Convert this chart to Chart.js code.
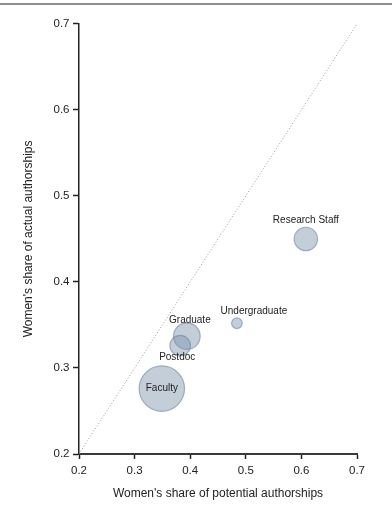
<!DOCTYPE html>
<html>
<head>
<meta charset="utf-8">
<script src="https://cdn.jsdelivr.net/npm/chart.js@4"></script>
<style>
  html, body { margin: 0; padding: 0; background: #fff; }
  canvas { display: block; }
</style>
</head>
<body>
<canvas id="authorChart" width="392" height="510"></canvas>
<script>
// Career stages and their shares of potential vs actual authorships
const stages = ["Research Staff", "Undergraduate", "Graduate", "Postdoc", "Faculty"];
const potentialShare = [0.608, 0.484, 0.394, 0.382, 0.349];
const actualShare = [0.450, 0.352, 0.337, 0.326, 0.276];
const bubbleRadius = [11.7, 5.3, 13.3, 10.3, 22.7];

const axisTicks = [0.2, 0.3, 0.4, 0.5, 0.6, 0.7];
const axisMin = axisTicks[0];
const axisMax = axisTicks[axisTicks.length - 1];

// Where each stage name sits relative to its bubble (px)
const labelOffsets = {
  "Research Staff": [0, -19],
  "Undergraduate": [17, -12],
  "Graduate": [3, -16],
  "Postdoc": [-3, 12],
  "Faculty": [0, 0],
};

const fontFamily = "'Liberation Sans', Arial, Helvetica, sans-serif";
const ctx = document.getElementById("authorChart").getContext("2d");

// Thin rule across the top of the figure
const topRule = {
  id: "topRule",
  beforeDraw(chart) {
    const c = chart.ctx;
    c.save();
    c.strokeStyle = "#6a6a6a";
    c.lineWidth = 1.5;
    c.beginPath();
    c.moveTo(0, 4);
    c.lineTo(chart.width, 4);
    c.stroke();
    c.restore();
  },
};

// Stage names next to the bubbles
const stageLabels = {
  id: "stageLabels",
  afterDatasetsDraw(chart) {
    const meta = chart.getDatasetMeta(1);
    const c = chart.ctx;
    c.save();
    c.font = "10px " + fontFamily;
    c.fillStyle = "#222";
    c.textAlign = "center";
    c.textBaseline = "middle";
    meta.data.forEach((el, i) => {
      const [dx, dy] = labelOffsets[stages[i]];
      c.fillText(stages[i], el.x + dx, el.y + dy);
    });
    c.restore();
  },
};

function axis(title, titlePadding, tickPadding, fit) {
  return {
    type: "linear",
    min: axisMin,
    max: axisMax,
    afterBuildTicks: (scale) => {
      scale.ticks = axisTicks.map((v) => ({ value: v }));
    },
    afterFit: fit,
    ticks: {
      padding: tickPadding,
      color: "#222",
      font: { family: fontFamily, size: 11.5 },
      callback: (v) => v.toFixed(1),
    },
    grid: {
      drawOnChartArea: false,
      drawTicks: true,
      tickLength: 6,
      tickColor: "#222",
      tickWidth: 1.5,
    },
    border: { display: true, color: "#222", width: 1.5 },
    title: {
      display: true,
      text: title,
      color: "#222",
      padding: titlePadding,
      font: { family: fontFamily, size: 12 },
    },
  };
}

const xAxis = axis("Women's share of potential authorships", { top: 0, bottom: 8.8 }, 5, (s) => { s.height = 56; });
xAxis.grid.tickLength = 5;
xAxis.border = { display: true, color: "#3a3a3a", width: 2 };
const yAxis = axis("Women's share of actual authorships", { top: 21.8, bottom: 0 }, 3.5, (s) => { s.width = 79; });

new Chart(ctx, {
  type: "bubble",
  data: {
    datasets: [
      {
        // parity line
        type: "line",
        data: [{ x: axisMin, y: axisMin }, { x: axisMax, y: axisMax }],
        borderColor: "#9a9a9a",
        borderWidth: 1,
        borderDash: [1, 2],
        pointRadius: 0,
        fill: false,
      },
      {
        type: "bubble",
        data: stages.map((s, i) => ({ x: potentialShare[i], y: actualShare[i], r: bubbleRadius[i] })),
        backgroundColor: "rgba(125, 146, 170, 0.45)",
        borderColor: "rgba(110, 132, 158, 0.6)",
        borderWidth: 1.2,
      },
    ],
  },
  options: {
    responsive: false,
    animation: false,
    devicePixelRatio: 1,
    layout: { padding: { top: 19, right: 35, bottom: 0, left: 0 } },
    plugins: {
      legend: { display: false },
      tooltip: { enabled: false },
    },
    scales: { x: xAxis, y: yAxis },
  },
  plugins: [topRule, stageLabels],
});
</script>
</body>
</html>
